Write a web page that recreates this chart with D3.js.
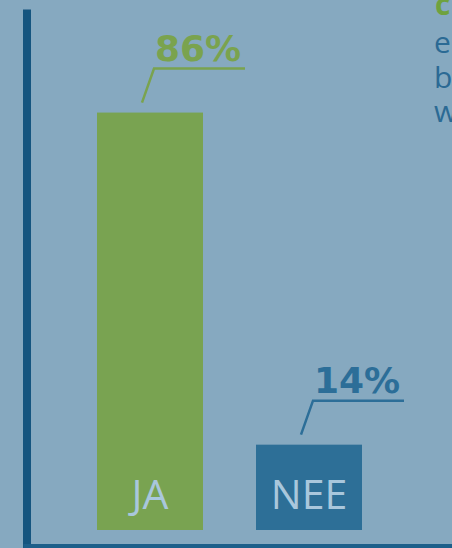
<!DOCTYPE html>
<html>
<head>
<meta charset="utf-8">
<script src="https://cdn.jsdelivr.net/npm/d3@7"></script>
<style>
  html, body { margin: 0; padding: 0; background: #86a9c0; }
  svg { display: block; }
</style>
</head>
<body>
<div id="chart"></div>
<script>
// data
const categories = ["JA", "NEE"];
const values = [86, 14];
const valueLabels = ["86%", "14%"];
const sideLines = ["e", "b", "w"];
const sideHeading = "c";

const width = 452, height = 548;
const colors = { JA: "#79a351", NEE: "#2d6f97" };
const labelColors = { JA: "#7aa34e", NEE: "#2c6e98" };

const svg = d3.select("#chart")
    .append("svg")
    .attr("width", width)
    .attr("height", height);

svg.append("rect")
    .attr("width", width)
    .attr("height", height)
    .attr("fill", "#86a9c0");

const x = d3.scaleBand()
    .domain(categories)
    .range([44, 415])
    .paddingInner(1 / 3)
    .paddingOuter(1 / 3);

// bars run below zero a bit, to hold the category name
const y = d3.scaleLinear()
    .domain([-4.5, 100])
    .range([530, 48]);

const data = categories.map((c, i) => ({ cat: c, value: values[i], label: valueLabels[i] }));

// bars
svg.selectAll(".bar")
    .data(data)
    .enter()
    .append("rect")
    .attr("class", "bar")
    .attr("x", d => x(d.cat))
    .attr("y", d => y(d.value))
    .attr("width", x.bandwidth())
    .attr("height", d => y.range()[0] - y(d.value))
    .attr("fill", d => colors[d.cat]);

// category names inside bars
svg.selectAll(".cat")
    .data(data)
    .enter()
    .append("text")
    .attr("class", "cat")
    .attr("x", d => x(d.cat) + x.bandwidth() / 2)
    .attr("y", y.range()[0] - 21)
    .attr("text-anchor", "middle")
    .attr("font-family", "'Open Sans', sans-serif")
    .attr("font-size", "41px")
    .attr("fill", "#a9c7dc")
    .text(d => d.cat);

// leader lines + value labels
const ann = svg.selectAll(".ann")
    .data(data)
    .enter()
    .append("g")
    .attr("class", "ann");

ann.append("path")
    .attr("fill", "none")
    .attr("stroke", d => labelColors[d.cat])
    .attr("stroke-width", 2.5)
    .attr("d", d => {
        const bx = x(d.cat), top = y(d.value);
        return `M${bx + 45},${top - 10} L${bx + 57},${top - 44} L${bx + 148},${top - 44}`;
    });

ann.append("text")
    .attr("x", d => x(d.cat) + 58)
    .attr("y", d => y(d.value) - 52)
    .attr("font-family", "'DejaVu Sans', sans-serif")
    .attr("font-weight", "bold")
    .attr("font-size", "36px")
    .attr("fill", d => labelColors[d.cat])
    .text(d => d.label);

// axes: thick left line, thin bottom line
svg.append("g")
    .attr("transform", "translate(26.5,0)")
    .call(d3.axisLeft(d3.scaleLinear().range([9, 548])).ticks(0).tickSize(0))
    .call(g => g.select(".domain").attr("stroke", "#15557f").attr("stroke-width", 8));

svg.append("g")
    .attr("transform", "translate(0,545.5)")
    .call(d3.axisBottom(d3.scaleLinear().range([23, 452])).ticks(0).tickSize(0))
    .call(g => g.select(".domain").attr("stroke", "#1d5f8a").attr("stroke-width", 4));

// cut-off side text on the right
svg.append("text")
    .attr("x", 435)
    .attr("y", 15)
    .attr("font-family", "'Open Sans', sans-serif")
    .attr("font-weight", "bold")
    .attr("font-size", "30px")
    .attr("fill", "#6fa23e")
    .text(sideHeading);

svg.selectAll(".side")
    .data(sideLines)
    .enter()
    .append("text")
    .attr("class", "side")
    .attr("x", 434)
    .attr("y", (d, i) => 53 + i * 34.5)
    .attr("font-family", "'Open Sans', sans-serif")
    .attr("font-size", "30px")
    .attr("fill", "#2b6a94")
    .text(d => d);
</script>
</body>
</html>
